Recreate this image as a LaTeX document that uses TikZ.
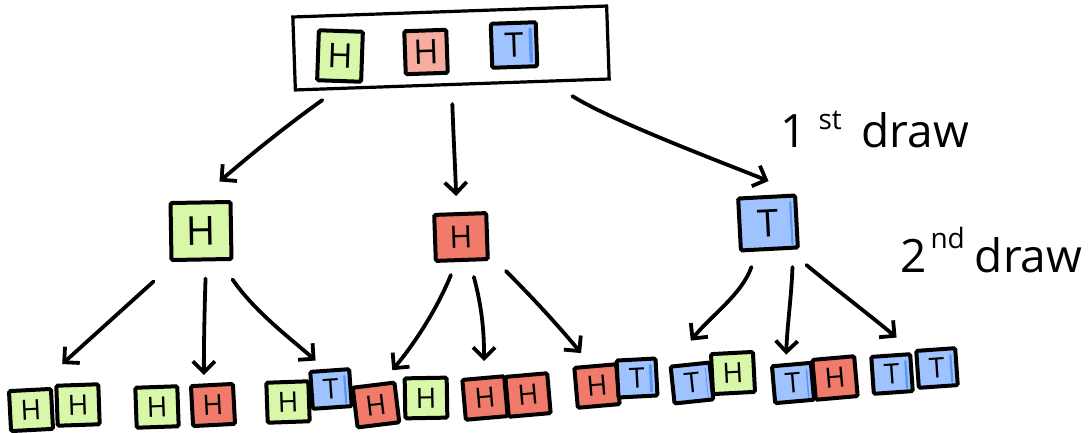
\documentclass[tikz,border=0pt]{standalone}
\usepackage{fontspec}
\setmainfont{Open Sans}
\usetikzlibrary{arrows.meta,calc}
\definecolor{cGreen}{HTML}{D9F7A8}
\definecolor{cSalmon}{HTML}{F7AC9F}
\definecolor{cRed}{HTML}{F07B6B}
\definecolor{cBlue}{HTML}{9EC3FF}
\definecolor{cBlueDark}{HTML}{5B93F5}
\begin{document}
\begin{tikzpicture}[x=1pt,y=-1pt,
  tile/.style={draw=black, line width=4pt, inner sep=0pt, rounded corners=1.5pt, text=black},
  sm/.style={minimum width=42pt, minimum height=40pt, font=\fontsize{28}{28}\selectfont},
  smb/.style={minimum width=39pt, minimum height=37pt, font=\fontsize{28}{28}\selectfont},
  gtile/.style={tile, fill=cGreen},
  stile/.style={tile, fill=cSalmon},
  rtile/.style={tile, fill=cRed},
  btile/.style={tile, fill=cBlue,
    path picture={\fill[cBlueDark] ([xshift=-9pt,yshift=-5pt]path picture bounding box.north east) rectangle ([xshift=-4pt,yshift=5pt]path picture bounding box.south east);}},
  frame/.style={draw=black, line width=3.2pt, minimum width=314pt, minimum height=73pt},
  arr/.style={-{Straight Barb[length=11pt,width=22pt]}, line width=3.8pt, line cap=round, line join=round},
  lbl/.style={font=\fontsize{46}{46}\selectfont, inner sep=0pt, anchor=base west}
]
\useasboundingbox (0,0) rectangle (1092,433);

% top box
\node[frame, rotate=2] (top) at (451,48) {};
\node[gtile, minimum width=44pt, minimum height=50pt, rotate=-2, font=\fontsize{34}{34}\selectfont] (t1) at (340,56) {H};
\node[stile, minimum width=42pt, minimum height=43pt, rotate=2, font=\fontsize{34}{34}\selectfont] (t2) at (426,52) {H};
\node[btile, minimum width=45pt, minimum height=44pt, rotate=2, font=\fontsize{34}{34}\selectfont] (t3) at (514,45) {T};

% middle
\node[gtile, minimum width=60pt, minimum height=57pt, rotate=1, font=\fontsize{40}{40}\selectfont] (gH) at (201,231) {H};
\node[rtile, minimum width=52pt, minimum height=46pt, rotate=2, font=\fontsize{31}{31}\selectfont] (rH) at (461,237) {H};
\node[btile, minimum width=57pt, minimum height=52pt, rotate=3, font=\fontsize{38}{38}\selectfont] (bT) at (768,223) {T};

% bottom
\node[gtile, sm, rotate=3] (b1a) at (31,410) {H};
\node[gtile, sm, rotate=2] (b1b) at (78,405) {H};
\node[gtile, sm, rotate=2] (b2a) at (157,407) {H};
\node[rtile, sm, rotate=3] (b2b) at (213,405) {H};
\node[gtile, sm, rotate=2] (b3a) at (288,402) {H};
\node[btile, smb, rotate=4] (b3b) at (331,389) {T};
\node[rtile, sm, rotate=7] (b4a) at (376,405) {H};
\node[gtile, sm, rotate=1] (b4b) at (426,398) {H};
\node[rtile, sm, rotate=5] (b5a) at (485,398) {H};
\node[rtile, sm, rotate=5] (b5b) at (528,395) {H};
\node[rtile, sm, rotate=5] (b6a) at (597,386) {H};
\node[btile, smb, rotate=3] (b6b) at (637,378) {T};
\node[btile, smb, rotate=6] (b7a) at (692,383) {T};
\node[gtile, sm, rotate=3] (b7b) at (733,373) {H};
\node[btile, smb, rotate=5] (b8a) at (793,383) {T};
\node[rtile, sm, rotate=5] (b8b) at (835,378) {H};
\node[btile, smb, rotate=4] (b9a) at (892,374) {T};
\node[btile, smb, rotate=4] (b9b) at (937,368) {T};

% first draw arrows
\draw[arr] ([shift={(-130,14)}]top.south) .. controls +(-35,25) and +(35,-30) .. ([shift={(19,-19)}]gH.north);
\draw[arr] ([shift={(0,18)}]top.south) .. controls +(1,30) and +(-1,-30) .. ([shift={(-4,-16)}]rH.north);
\draw[arr] ([shift={(120,10)}]top.south) .. controls +(40,25) and +(-50,-20) .. ([shift={(2,-14)}]bT.north);

% second draw arrows
\draw[arr] ([shift={(-48,20)}]gH.south) -- ([shift={(-15,-19)}]b1b.north);
\draw[arr] ([shift={(4,17)}]gH.south) .. controls +(-1,30) and +(0,-30) .. ([shift={(-8,-8)}]b2b.north);
\draw[arr] ([shift={(31,18)}]gH.south) .. controls +(22,32) and +(-25,-22) .. ([shift={(-14,-8)}]b3b.north);

\draw[arr] ([shift={(-11,13)}]rH.south) .. controls +(-12,30) and +(25,-30) .. ([shift={(19,-13)}]b4a.north);
\draw[arr] ([shift={(12,15)}]rH.south) .. controls +(8,30) and +(0,-30) .. ([shift={(1,-15)}]b5a.north);
\draw[arr] ([shift={(44,9)}]rH.south) .. controls +(25,25) and +(-25,-30) .. ([shift={(-14,-11)}]b6a.north);

\draw[arr] ([shift={(-18,16)}]bT.south) .. controls +(-10,28) and +(20,-25) .. ([shift={(1,-22)}]b7a.north);
\draw[arr] ([shift={(23,16)}]bT.south) .. controls +(-1,30) and +(1,-30) .. ([shift={(-5,-8)}]b8a.north);
\draw[arr] ([shift={(37,14)}]bT.south) .. controls +(30,25) and +(-30,-25) .. ([shift={(6,-16)}]b9a.north);

% labels
\node[lbl] (l1) at (780,148) {1\hspace{12pt}\raisebox{18pt}{\fontsize{28}{28}\selectfont st}\hspace{20pt}draw};
\node[lbl] (l2) at (900,272) {2\hspace{4pt}\raisebox{24pt}{\fontsize{28}{28}\selectfont nd}\hspace{10pt}draw};
\end{tikzpicture}
\end{document}
